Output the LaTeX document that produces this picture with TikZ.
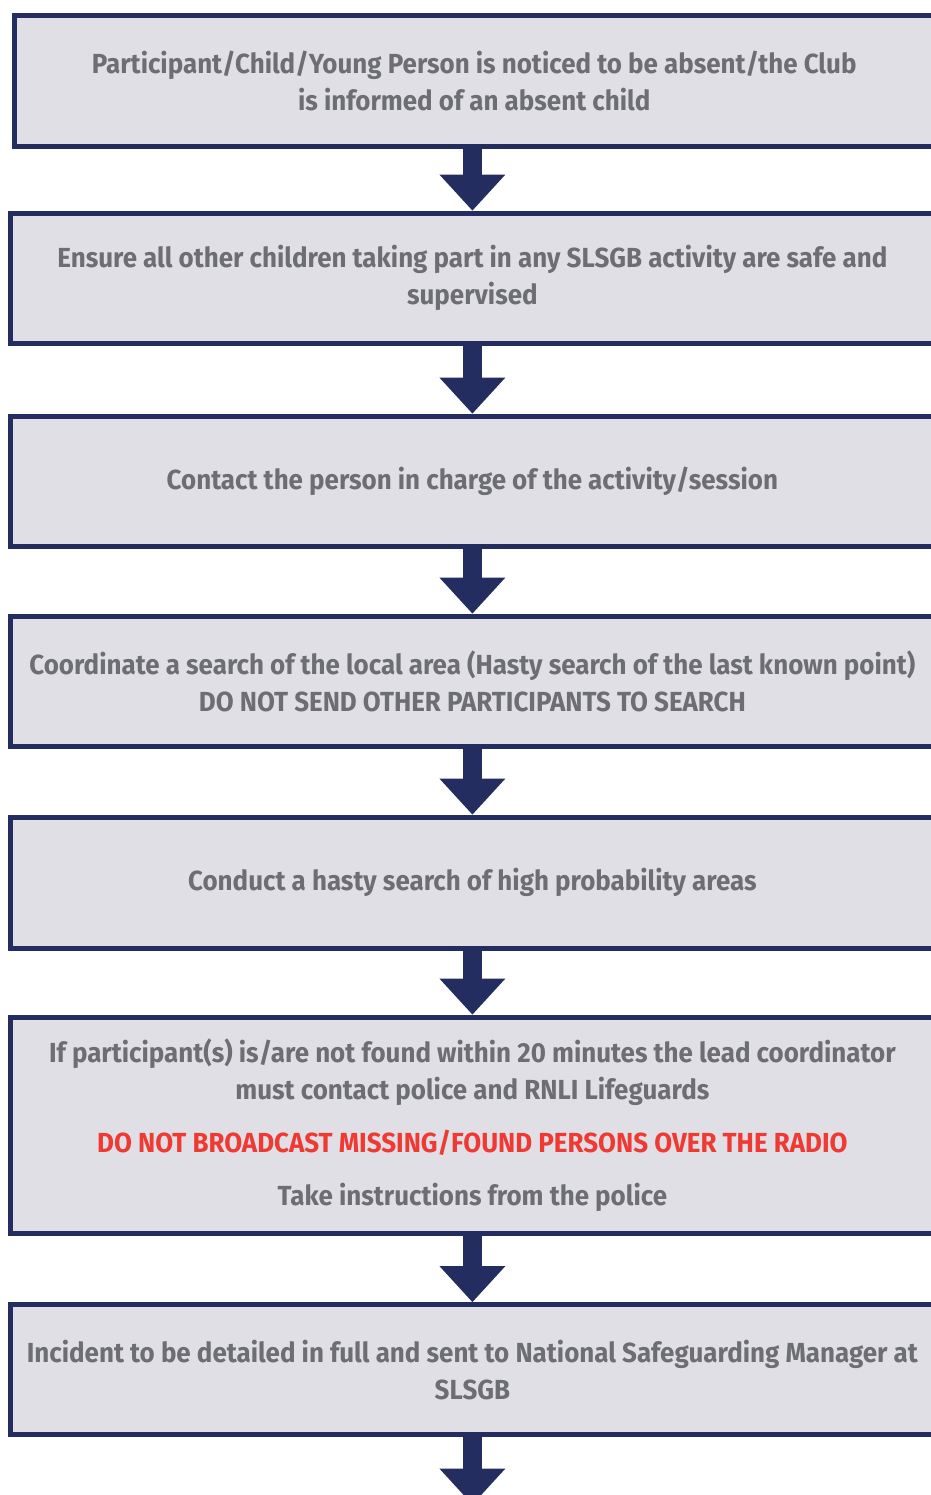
\documentclass[tikz,border=0pt]{standalone}
\usepackage{fontspec}
\setmainfont{Fira Sans}[FakeStretch=0.94]
\usepackage{tikz}
\usetikzlibrary{arrows.meta,positioning}
\usepackage{xcolor}
\definecolor{navy}{RGB}{35,45,95}
\definecolor{boxfill}{RGB}{224,223,229}
\definecolor{txtgray}{RGB}{109,110,113}
\definecolor{warnred}{RGB}{238,58,50}

\begin{document}
\begin{tikzpicture}[box/.style={rectangle, draw=navy, fill=boxfill, line width=2.5pt,
		minimum width=461.5pt, minimum height=65pt, inner sep=0pt, align=center,
		text=txtgray, font=\fontsize{13.8}{18.5}\selectfont\bfseries},
	flow/.style={draw=navy, line width=9.5pt, -{Triangle[width=33pt, length=18pt, line width=0pt, fill=navy]}}]
	\useasboundingbox (0,0) rectangle (465.5pt,-747.5pt);
	\clip (0,0) rectangle (465.5pt,-747.5pt);
	
	\node (a) [box, minimum width=459.75pt, minimum height=65.25pt] at (237.1pt,-40.4pt)
		{Participant/Child/Young Person is noticed to be absent/the Club\\is informed of an absent child};
	\node (b) [box, below=31pt of a, xshift=-0.9pt]
		{Ensure all other children taking part in any SLSGB activity are safe and\\supervised};
	\node (c) [box, below=34pt of b] {Contact the person in charge of the activity/session};
	\node (d) [box, below=32.5pt of c]
		{Coordinate a search of the local area (Hasty search of the last known point)\\DO NOT SEND OTHER PARTICIPANTS TO SEARCH};
	\node (e) [box, below=33pt of d, minimum height=65.5pt] {Conduct a hasty search of high probability areas};
	\node (f) [box, below=32pt of e, minimum height=108pt]
		{If participant(s) is/are not found within 20 minutes the lead coordinator\\must contact police and RNLI Lifeguards\\[8pt]
		{\color{warnred}DO NOT BROADCAST MISSING/FOUND PERSONS OVER THE RADIO}\\[8pt]
		Take instructions from the police};
	\node (g) [box, below=33.25pt of f]
		{Incident to be detailed in full and sent to National Safeguarding Manager at\\SLSGB};
	\path (g.south) ++(0,-33.75pt) coordinate (end);
	
	\draw [flow] (a.south -| b) -- (b.north);
	\draw [flow] (b) -- (c);
	\draw [flow] (c) -- (d);
	\draw [flow] (d) -- (e);
	\draw [flow] (e) -- (f);
	\draw [flow] (f) -- (g);
	\draw [flow] (g.south) -- (end);
\end{tikzpicture}
\end{document}
